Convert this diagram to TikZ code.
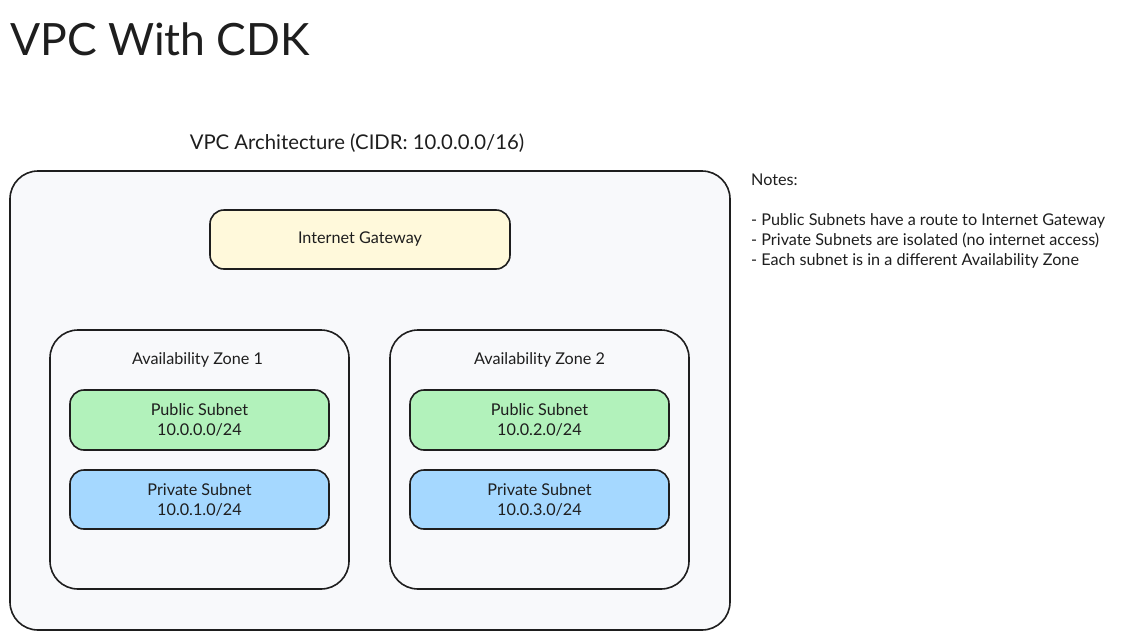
\documentclass[tikz,border=0pt]{standalone}
\usepackage{fontspec}
\setmainfont{Lato}
\usepackage{xcolor}
\definecolor{ink}{HTML}{1E1E1E}
\definecolor{vpcfill}{HTML}{F8F9FB}
\definecolor{gwfill}{HTML}{FFF9DB}
\definecolor{pubfill}{HTML}{B2F2BB}
\definecolor{privfill}{HTML}{A5D8FF}
\tikzset{
  boxed/.style={draw=ink, line width=1.6pt, inner sep=0pt, text=ink, align=center, font=\fontsize{16.2}{20}\selectfont},
  bigbox/.style={boxed, fill=vpcfill, rounded corners=28pt},
  subbox/.style={boxed, rounded corners=14pt},
  plain/.style={text=ink, inner sep=0pt}
}
\begin{document}
\begin{tikzpicture}[x=1pt,y=-1pt]
\useasboundingbox[fill=white] (0,0) rectangle (1121,640);
\node at (10,55) (title) [plain, anchor=base west, font=\fontsize{44.5}{50}\selectfont] {VPC With CDK};
\node at (357,143) (vpclabel) [plain, font=\fontsize{20.3}{24}\selectfont] {VPC Architecture (CIDR: 10.0.0.0/16)};
\node at (370,400.5) (vpc) [bigbox, minimum width=720pt, minimum height=459pt] {};
\node at (360,239.5) (igw) [subbox, fill=gwfill, minimum width=300pt, minimum height=59pt] {Internet Gateway};
% zone 1
\node at (199.5,459.5) (az1) [bigbox, minimum width=299pt, minimum height=259pt] {};
\node at (197.5,360) (az1label) [plain, font=\fontsize{16.2}{20}\selectfont] {Availability Zone 1};
\node at (199.5,420) (pub1) [subbox, fill=pubfill, minimum width=259pt, minimum height=60pt] {Public Subnet\\10.0.0.0/24};
\node at (199.5,499.5) (priv1) [subbox, fill=privfill, minimum width=259pt, minimum height=59pt] {Private Subnet\\10.0.1.0/24};
% zone 2
\node at (539.5,459.5) (az2) [bigbox, minimum width=299pt, minimum height=259pt] {};
\node at (539.5,360) (az2label) [plain, font=\fontsize{16.2}{20}\selectfont] {Availability Zone 2};
\node at (539.5,420) (pub2) [subbox, fill=pubfill, minimum width=259pt, minimum height=60pt] {Public Subnet\\10.0.2.0/24};
\node at (539.5,499.5) (priv2) [subbox, fill=privfill, minimum width=259pt, minimum height=59pt] {Private Subnet\\10.0.3.0/24};
% notes
\node at (751,174) (notes) [plain, anchor=north west, align=left, font=\fontsize{16.2}{20}\selectfont] {Notes:\\[20pt]- Public Subnets have a route to Internet Gateway\\- Private Subnets are isolated (no internet access)\\- Each subnet is in a different Availability Zone};
\end{tikzpicture}
\end{document}
